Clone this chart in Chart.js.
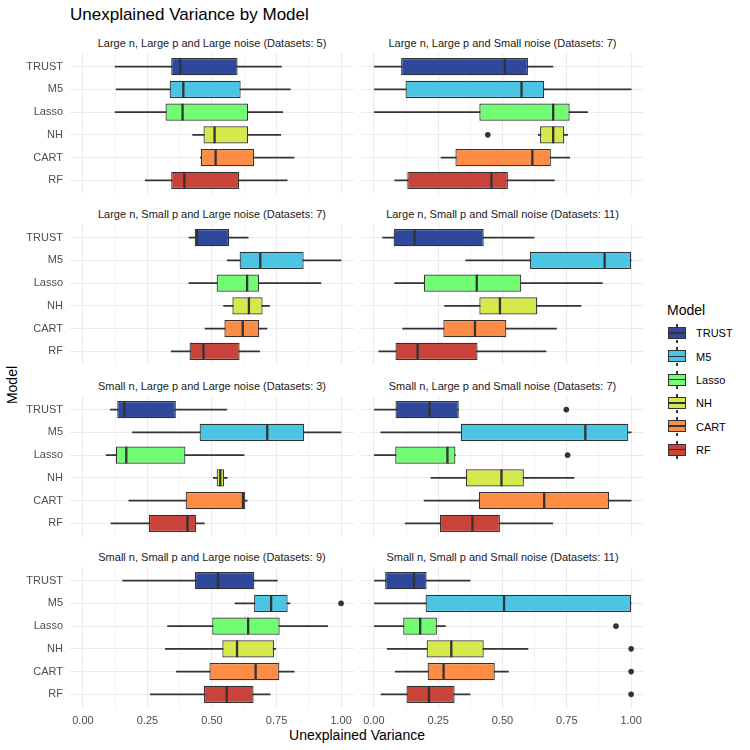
<!DOCTYPE html>
<html>
<head>
<meta charset="utf-8">
<script src="https://cdn.jsdelivr.net/npm/chart.js@4.4.1/dist/chart.umd.min.js"></script>
<style>
  body { margin: 0; background: #fff; font-family: Arial, "Liberation Sans", sans-serif; }
  #wrap { position: relative; width: 750px; height: 750px; overflow: hidden; }
  #wrap canvas { position: absolute; }
  .txt { position: absolute; white-space: nowrap; }
  .strip { font-size: 11px; color: #1a1a1a; text-align: center; line-height: 14px; }
  .key { position: absolute; width: 16px; height: 10px; border: 1.3px solid #333; }
  .key .med { position: absolute; left: 0; right: 0; top: 4.3px; height: 1.4px; background: #333; }
  .whisk { position: absolute; width: 1.2px; height: 3px; background: #333; }
</style>
</head>
<body>
<div id="wrap">
  <div class="txt" style="left:70px;top:4px;font-size:17px;line-height:22px;color:#000">Unexplained Variance by Model</div>
  <div class="txt" style="left:-13px;top:376px;width:50px;text-align:center;font-size:14px;line-height:18px;transform:rotate(-90deg);color:#000">Model</div>
  <div class="txt" style="left:207px;top:726px;width:300px;text-align:center;font-size:14px;line-height:18px;color:#000">Unexplained Variance</div>
  <div class="txt" style="left:667px;top:301px;font-size:14px;line-height:18px;color:#000">Model</div>
</div>
<script>
const models = ['TRUST', 'M5', 'Lasso', 'NH', 'CART', 'RF'];
const fills = ['#30489C', '#4CC4E3', '#72FC74', '#D5E84C', '#FD8D44', '#C8433A'];

const facetTitles = [
  'Large n, Large p and Large noise (Datasets: 5)',
  'Large n, Large p and Small noise (Datasets: 7)',
  'Large n, Small p and Large noise (Datasets: 7)',
  'Large n, Small p and Small noise (Datasets: 11)',
  'Small n, Large p and Large noise (Datasets: 3)',
  'Small n, Large p and Small noise (Datasets: 7)',
  'Small n, Small p and Large noise (Datasets: 9)',
  'Small n, Small p and Small noise (Datasets: 11)'
];

// one row per facet, values in model order
const whiskerLow = [
  [0.125, 0.129, 0.125, 0.425, 0.455, 0.241],
  [0.000, 0.000, 0.000, 0.639, 0.261, 0.081],
  [0.411, 0.559, 0.411, 0.545, 0.473, 0.342],
  [0.034, 0.357, 0.081, 0.275, 0.112, 0.019],
  [0.106, 0.192, 0.090, 0.505, 0.178, 0.109],
  [0.000, 0.027, 0.000, 0.222, 0.195, 0.122],
  [0.154, 0.589, 0.328, 0.319, 0.362, 0.261],
  [0.000, 0.000, 0.000, 0.052, 0.083, 0.028]
];
const boxLow = [
  [0.342, 0.336, 0.320, 0.467, 0.457, 0.342],
  [0.106, 0.123, 0.410, 0.646, 0.317, 0.130],
  [0.433, 0.607, 0.518, 0.579, 0.548, 0.413],
  [0.077, 0.607, 0.194, 0.410, 0.270, 0.084],
  [0.133, 0.452, 0.128, 0.518, 0.398, 0.256],
  [0.084, 0.338, 0.083, 0.358, 0.408, 0.257],
  [0.434, 0.663, 0.501, 0.540, 0.490, 0.469],
  [0.044, 0.201, 0.114, 0.205, 0.209, 0.127]
];
const medians = [
  [0.377, 0.389, 0.386, 0.510, 0.514, 0.393],
  [0.509, 0.574, 0.697, 0.697, 0.616, 0.457],
  [0.442, 0.687, 0.636, 0.643, 0.619, 0.467],
  [0.158, 0.897, 0.400, 0.490, 0.393, 0.170],
  [0.160, 0.714, 0.168, 0.532, 0.620, 0.405],
  [0.216, 0.822, 0.286, 0.496, 0.662, 0.383],
  [0.523, 0.729, 0.640, 0.597, 0.669, 0.557],
  [0.156, 0.506, 0.180, 0.301, 0.271, 0.214]
];
const boxHigh = [
  [0.599, 0.611, 0.640, 0.640, 0.663, 0.605],
  [0.599, 0.662, 0.761, 0.740, 0.688, 0.521],
  [0.566, 0.855, 0.682, 0.696, 0.683, 0.607],
  [0.427, 1.000, 0.573, 0.635, 0.515, 0.403],
  [0.360, 0.857, 0.397, 0.547, 0.629, 0.439],
  [0.330, 0.989, 0.317, 0.583, 0.914, 0.490],
  [0.664, 0.793, 0.762, 0.740, 0.761, 0.661],
  [0.205, 1.000, 0.245, 0.427, 0.470, 0.314]
];
const whiskerHigh = [
  [0.769, 0.803, 0.774, 0.766, 0.818, 0.791],
  [0.696, 1.000, 0.831, 0.753, 0.761, 0.702],
  [0.640, 1.000, 0.922, 0.723, 0.713, 0.685],
  [0.623, 1.000, 0.888, 0.805, 0.710, 0.669],
  [0.557, 1.000, 0.624, 0.559, 0.636, 0.470],
  [0.330, 1.000, 0.317, 0.778, 1.000, 0.695],
  [0.753, 0.802, 0.948, 0.747, 0.818, 0.725],
  [0.374, 1.000, 0.278, 0.599, 0.523, 0.374]
];
const outliers = [
  [],
  [['NH', 0.443]],
  [],
  [],
  [],
  [['TRUST', 0.748], ['Lasso', 0.753]],
  [['M5', 1.0]],
  [['Lasso', 0.941], ['NH', 1.0], ['CART', 1.0], ['RF', 1.0]]
];

const xTickValues = [0, 0.25, 0.5, 0.75, 1];
const xTickLabels = ['0.00', '0.25', '0.50', '0.75', '1.00'];
const xGridValues = [0, 0.125, 0.25, 0.375, 0.5, 0.625, 0.75, 0.875, 1];

Chart.defaults.font.family = 'Arial, "Liberation Sans", sans-serif';

const wrap = document.getElementById('wrap');
const panelTops = [53, 224, 396, 567];
const panelH = 141;

facetTitles.forEach((title, f) => {
  const col = f % 2, row = Math.floor(f / 2);
  const isLeft = col === 0, isBottom = row === 3;
  const axisW = isLeft ? 60 : 0;
  const areaLeft = isLeft ? 70 : 361;
  const areaW = isLeft ? 284 : 283;

  const strip = document.createElement('div');
  strip.className = 'txt strip';
  strip.style.left = areaLeft + 'px';
  strip.style.width = areaW + 'px';
  strip.style.top = (panelTops[row] - 17) + 'px';
  strip.textContent = title;
  wrap.appendChild(strip);

  const cv = document.createElement('canvas');
  cv.width = axisW + areaW;
  cv.height = panelH + (isBottom ? 24 : 0);
  cv.style.left = (areaLeft - axisW) + 'px';
  cv.style.top = panelTops[row] + 'px';
  wrap.appendChild(cv);

  const boxes = models.map((m, i) => ({ y: i, x: [boxLow[f][i], boxHigh[f][i]] }));
  const whisk = models.map((m, i) => ({ y: i, x: [whiskerLow[f][i], whiskerHigh[f][i]] }));
  const med = models.map((m, i) => ({ y: i, x: medians[f][i] }));
  const outl = outliers[f].map(o => ({ y: models.indexOf(o[0]), x: o[1] }));

  new Chart(cv, {
    type: 'bar',
    data: {
      datasets: [
        { type: 'scatter', data: outl, pointStyle: 'circle', pointRadius: 2.8,
          pointBackgroundColor: '#333333', pointBorderWidth: 0, borderWidth: 0 },
        { type: 'scatter', data: med, pointStyle: 'line', pointRotation: 90, pointRadius: 8.4,
          pointBorderColor: '#333333', pointBorderWidth: 2.3, borderWidth: 0 },
        { data: boxes, backgroundColor: fills, borderColor: '#333333', borderWidth: 1.2,
          borderSkipped: false, grouped: false, barPercentage: 0.75, categoryPercentage: 1 },
        { data: whisk, backgroundColor: '#333333', barThickness: 1.2, grouped: false }
      ]
    },
    options: {
      indexAxis: 'y',
      responsive: false,
      animation: false,
      layout: { padding: 0, autoPadding: false },
      plugins: { legend: { display: false }, tooltip: { enabled: false } },
      scales: {
        x: {
          type: 'linear', min: -0.05, max: 1.05, offset: false,
          afterBuildTicks: s => { s.ticks = xGridValues.map(v => ({ value: v })); },
          afterFit: s => { s.height = isBottom ? 24 : 0; s.paddingLeft = 0; s.paddingRight = 0; },
          ticks: {
            display: isBottom, autoSkip: false, maxRotation: 0, minRotation: 0, padding: 6,
            color: '#4d4d4d', font: { size: 11 },
            callback: v => { const k = xTickValues.indexOf(v); return k >= 0 ? xTickLabels[k] : ''; }
          },
          grid: { color: '#EBEBEB', drawTicks: false, offset: false,
                  lineWidth: c => (c.tick && xTickValues.includes(c.tick.value)) ? 1.1 : 0.6 },
          border: { display: false }
        },
        y: {
          type: 'linear', min: -0.6, max: 5.6, reverse: true, offset: false,
          afterBuildTicks: s => { s.ticks = models.map((m, i) => ({ value: i })); },
          afterFit: s => { s.width = axisW; s.paddingTop = 0; s.paddingBottom = 0; },
          ticks: { display: isLeft, padding: 7, color: '#4d4d4d', font: { size: 11 },
                   callback: v => models[v] },
          grid: { color: '#EBEBEB', lineWidth: 1.1, drawTicks: false, offset: false },
          border: { display: false }
        }
      }
    }
  });
});

// legend
models.forEach((m, i) => {
  const cy = 333.3 + 23.3 * i;
  const key = document.createElement('div');
  key.className = 'key';
  key.style.left = '668px';
  key.style.top = (cy - 6.3) + 'px';
  key.style.background = fills[i];
  key.innerHTML = '<div class="med"></div>';
  wrap.appendChild(key);
  [cy - 9.3, cy + 6.3].forEach(t => {
    const w = document.createElement('div');
    w.className = 'whisk';
    w.style.left = '676.4px';
    w.style.top = t + 'px';
    wrap.appendChild(w);
  });
  const lab = document.createElement('div');
  lab.className = 'txt';
  lab.style.cssText = 'left:696px;top:' + (cy - 7) + 'px;font-size:11px;line-height:14px;color:#000';
  lab.textContent = m;
  wrap.appendChild(lab);
});
</script>
</body>
</html>
